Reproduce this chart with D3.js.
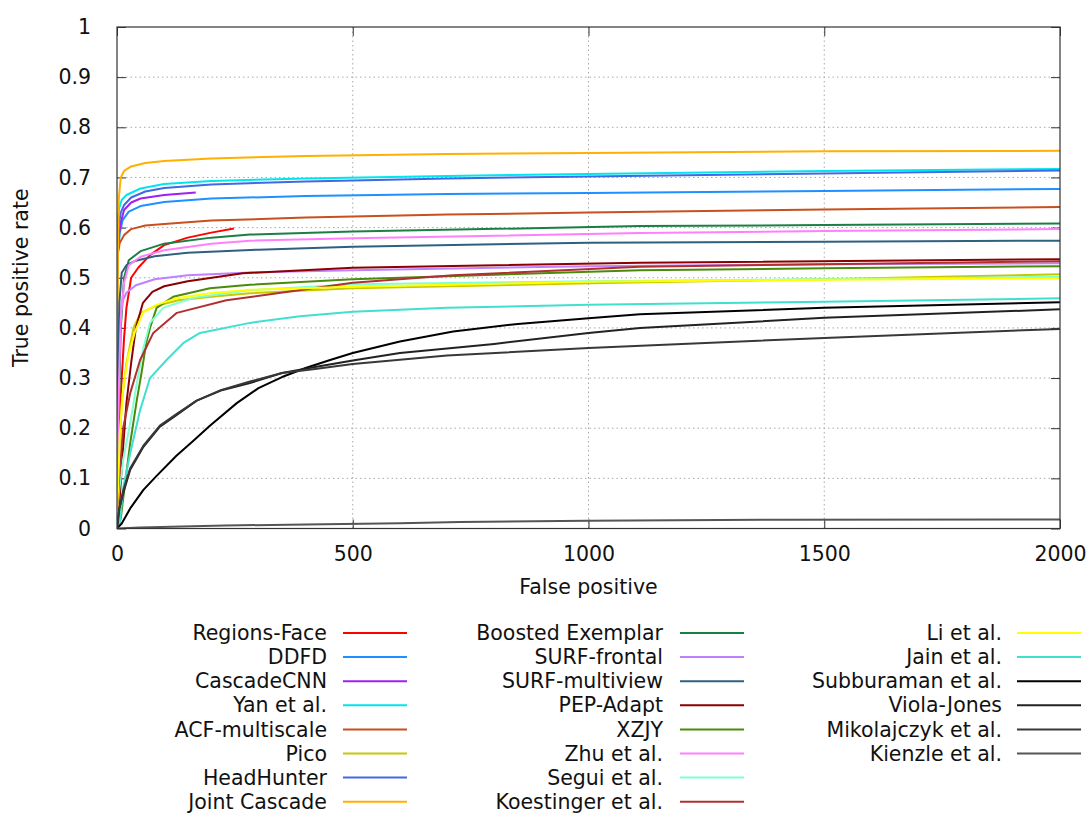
<!DOCTYPE html>
<html><head><meta charset="utf-8">
<script src="https://cdn.jsdelivr.net/npm/d3@7"></script>
<style>body{margin:0;background:#fff}svg{display:block}text{font-family:"DejaVu Sans",sans-serif;fill:#111}</style>
</head><body><svg id="c" width="1090" height="813"></svg>
<script>
const xTicks=[0,500,1000,1500,2000];
const yTicks=[0,0.1,0.2,0.3,0.4,0.5,0.6,0.7,0.8,0.9,1];
const yTickLabels=["0","0.1","0.2","0.3","0.4","0.5","0.6","0.7","0.8","0.9","1"];
const methods=["Regions-Face","DDFD","CascadeCNN","Yan et al.","ACF-multiscale","Pico","HeadHunter","Joint Cascade",
"Boosted Exemplar","SURF-frontal","SURF-multiview","PEP-Adapt","XZJY","Zhu et al.","Segui et al.","Koestinger et al.",
"Li et al.","Jain et al.","Subburaman et al.","Viola-Jones","Mikolajczyk et al.","Kienzle et al."];
const colors=["#ff0000","#1e90ff","#a020f0","#00e5ee","#c8501e","#c8c800","#4169e1","#ffb000",
"#1b7f45","#c080ff","#2f6080","#8b0000","#4b8b0b","#ff80ff","#80ffd0","#b03030",
"#ffff00","#40e0d0","#000000","#222222","#383838","#555555"];
// [false positives, true positive rate]
const regionsFace=[[0,0],[3,0.12],[5,0.2],[10,0.3],[15,0.38],[20,0.44],[30,0.5],[45,0.52],[70,0.545],[100,0.565],[150,0.58],[200,0.59],[248,0.598]];
const ddfd=[[0,0.45],[2,0.55],[6,0.59],[12,0.615],[25,0.632],[50,0.643],[100,0.651],[200,0.658],[400,0.663],[700,0.667],[1000,0.669],[1500,0.673],[2000,0.677]];
const cascadeCNN=[[0,0.5],[3,0.58],[8,0.61],[15,0.635],[30,0.65],[50,0.658],[100,0.665],[167,0.67]];
const yan=[[0,0.55],[2,0.62],[5,0.64],[10,0.655],[20,0.665],[50,0.678],[100,0.687],[200,0.693],[400,0.698],[700,0.703],[1000,0.707],[1500,0.713],[2000,0.717]];
const acf=[[0,0.5],[2,0.55],[6,0.57],[15,0.585],[30,0.597],[60,0.604],[100,0.607],[200,0.614],[400,0.62],[700,0.626],[1000,0.63],[1500,0.636],[2000,0.641]];
const pico=[[0,0],[2,0.05],[5,0.15],[10,0.25],[20,0.33],[35,0.4],[50,0.43],[80,0.443],[130,0.455],[200,0.462],[282,0.469],[500,0.479],[1000,0.489],[1500,0.497],[1800,0.503],[2000,0.507]];
const headHunter=[[0,0.5],[3,0.6],[8,0.63],[15,0.645],[30,0.66],[60,0.672],[100,0.679],[200,0.686],[400,0.692],[700,0.698],[1000,0.702],[1500,0.708],[2000,0.714]];
const jointCascade=[[0,0],[1,0.3],[2,0.55],[4,0.66],[8,0.7],[15,0.713],[30,0.722],[60,0.729],[100,0.733],[200,0.738],[400,0.743],[700,0.747],[1000,0.749],[1500,0.752],[2000,0.753]];
const boostedExemplar=[[0,0],[3,0.2],[8,0.4],[15,0.5],[25,0.535],[50,0.553],[100,0.568],[200,0.58],[282,0.586],[500,0.592],[1109,0.603],[1500,0.605],[2000,0.608]];
const surfFrontal=[[0,0],[2,0.2],[5,0.38],[10,0.45],[20,0.47],[40,0.485],[80,0.497],[150,0.505],[300,0.511],[500,0.515],[1000,0.523],[1500,0.527],[2000,0.529]];
const surfMultiview=[[0,0],[2,0.3],[5,0.45],[10,0.51],[20,0.525],[40,0.534],[80,0.543],[150,0.55],[300,0.556],[500,0.562],[1000,0.57],[1500,0.572],[2000,0.574]];
const pepAdapt=[[0,0],[5,0.05],[12,0.15],[20,0.25],[30,0.33],[40,0.4],[55,0.45],[75,0.472],[100,0.483],[150,0.493],[267,0.509],[500,0.52],[1109,0.53],[2000,0.537]];
const xzjy=[[0,0],[8,0.02],[17,0.09],[28,0.17],[42,0.256],[52,0.31],[62,0.37],[70,0.4],[84,0.44],[119,0.462],[197,0.479],[282,0.486],[500,0.497],[1109,0.515],[1500,0.519],[2000,0.523]];
const zhu=[[0,0],[3,0.25],[8,0.42],[15,0.49],[25,0.525],[50,0.542],[100,0.555],[200,0.568],[282,0.574],[500,0.579],[1109,0.589],[1500,0.593],[2000,0.597]];
const segui=[[0,0.03],[5,0.08],[13,0.137],[28,0.21],[42,0.29],[56,0.36],[70,0.41],[98,0.44],[162,0.46],[282,0.475],[500,0.487],[1000,0.493],[1500,0.497],[2000,0.502]];
const koestinger=[[0,0],[3,0.08],[13,0.2],[28,0.27],[49,0.336],[77,0.39],[127,0.43],[232,0.455],[500,0.49],[713,0.505],[1109,0.522],[1500,0.527],[2000,0.533]];
const li=[[0,0],[1,0.05],[3,0.1],[6,0.19],[13,0.28],[24,0.345],[38,0.392],[56,0.432],[84,0.446],[127,0.459],[197,0.469],[282,0.476],[500,0.482],[1000,0.492],[1500,0.496],[2000,0.499]];
const jain=[[0,0],[6,0.01],[13,0.08],[28,0.15],[49,0.236],[70,0.3],[105,0.336],[141,0.37],[176,0.39],[282,0.41],[388,0.423],[500,0.432],[700,0.44],[1000,0.446],[1500,0.452],[2000,0.459]];
const subburaman=[[0,0],[10,0.01],[28,0.04],[56,0.077],[84,0.105],[126,0.145],[162,0.175],[197,0.205],[254,0.25],[300,0.28],[350,0.302],[400,0.32],[452,0.336],[500,0.35],[600,0.373],[713,0.393],[850,0.408],[1000,0.419],[1109,0.427],[1500,0.44],[2000,0.451]];
const violaJones=[[0,0],[5,0.04],[13,0.07],[28,0.117],[56,0.163],[91,0.203],[126,0.226],[169,0.255],[220,0.275],[282,0.29],[350,0.31],[420,0.322],[500,0.335],[600,0.35],[800,0.368],[1000,0.39],[1109,0.4],[1500,0.42],[2000,0.437]];
const mikolajczyk=[[0,0],[5,0.04],[13,0.075],[28,0.12],[56,0.165],[91,0.205],[126,0.228],[169,0.255],[220,0.276],[282,0.293],[350,0.31],[420,0.318],[500,0.328],[700,0.345],[1000,0.36],[1500,0.38],[2000,0.398]];
const kienzle=[[0,0],[49,0.002],[137,0.004],[229,0.006],[400,0.008],[600,0.0104],[727,0.013],[997,0.0155],[1410,0.0175],[2000,0.018]];
const seriesData=[regionsFace,ddfd,cascadeCNN,yan,acf,pico,headHunter,jointCascade,boostedExemplar,surfFrontal,surfMultiview,pepAdapt,xzjy,zhu,segui,koestinger,li,jain,subburaman,violaJones,mikolajczyk,kienzle];

const svg=d3.select("#c");
const L=117,R=1060,T=27,B=528.5;
const x=d3.scaleLinear().domain([0,2000]).range([L,R]);
const y=d3.scaleLinear().domain([0,1]).range([B,T]);
const fs="20.5px";
// grid
const grid=svg.append("g");
grid.selectAll(".gx").data(xTicks.slice(1,-1)).join("line").attr("x1",d=>x(d)).attr("x2",d=>x(d)).attr("y1",T).attr("y2",B)
 .attr("stroke","#a8a8a8").attr("stroke-width",1).attr("stroke-dasharray","1.5,3");
grid.selectAll(".gy").data(yTicks.slice(1,-1)).join("line").attr("y1",d=>y(d)).attr("y2",d=>y(d)).attr("x1",L).attr("x2",R)
 .attr("stroke","#a8a8a8").attr("stroke-width",1).attr("stroke-dasharray","1.5,3");
// axes with inward ticks
const xAxB=d3.axisBottom(x).tickValues(xTicks).tickSize(-9).tickPadding(18).tickFormat(d3.format("d"));
const gxb=svg.append("g").attr("transform",`translate(0,${B})`).call(xAxB);
const gxt=svg.append("g").attr("transform",`translate(0,${T})`).call(d3.axisTop(x).tickValues(xTicks).tickSize(-9).tickFormat(""));
const yAxL=d3.axisLeft(y).tickValues(yTicks).tickSize(-9).tickPadding(26).tickFormat((d,i)=>yTickLabels[i]);
const gyl=svg.append("g").attr("transform",`translate(${L},0)`).call(yAxL);
const gyr=svg.append("g").attr("transform",`translate(${R},0)`).call(d3.axisRight(y).tickValues(yTicks).tickSize(-9).tickFormat(""));
[gxb,gxt,gyl,gyr].forEach(g=>{g.select(".domain").remove();g.selectAll(".tick line").attr("stroke","#333");
 g.selectAll("text").attr("font-size",fs).attr("font-family","DejaVu Sans").attr("fill","#111");});
// plot clip
svg.append("clipPath").attr("id","clip").append("rect").attr("x",L).attr("y",T-2).attr("width",R-L).attr("height",B-T+2);
const line=d3.line().x(d=>x(d[0])).y(d=>y(d[1]));
svg.append("g").attr("clip-path","url(#clip)").selectAll("path").data(seriesData).join("path")
 .attr("d",line).attr("fill","none").attr("stroke",(d,i)=>colors[i]).attr("stroke-width",2).attr("stroke-linejoin","round");
// border
svg.append("rect").attr("x",L).attr("y",T).attr("width",R-L).attr("height",B-T).attr("fill","none").attr("stroke","#333").attr("stroke-width",1.2);
// axis titles
svg.append("text").attr("x",(L+R)/2).attr("y",594).attr("text-anchor","middle").attr("font-size",fs).text("False positive");
svg.append("text").attr("transform",`translate(28,${(T+B)/2}) rotate(-90)`).attr("text-anchor","middle").attr("font-size",fs).text("True positive rate");
// legend
const colText=[327,663,1002], colLine=[[343,407],[680,744],[1017,1081]];
const leg=svg.append("g");
methods.forEach((m,i)=>{
  const c=Math.floor(i/8), r=i%8, yy=633+r*24.1;
  leg.append("text").attr("x",colText[c]).attr("y",yy).attr("dy","0.35em").attr("text-anchor","end").attr("font-size",fs).text(m);
  leg.append("line").attr("x1",colLine[c][0]).attr("x2",colLine[c][1]).attr("y1",yy).attr("y2",yy).attr("stroke",colors[i]).attr("stroke-width",2);
});
</script></body></html>
